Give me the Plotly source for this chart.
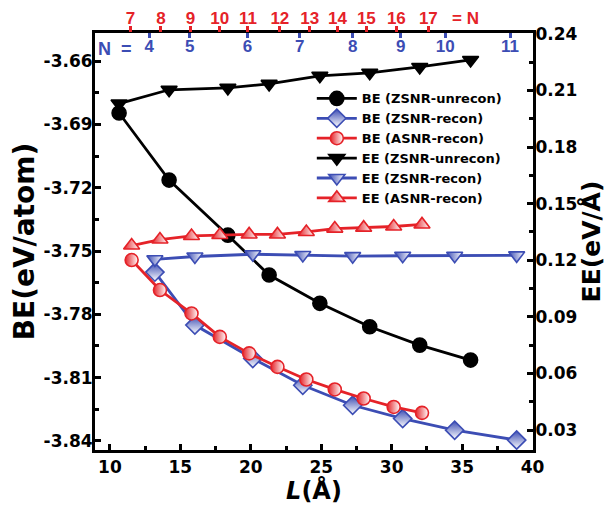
import plotly.graph_objects as go

# ---------------- data ----------------
# ZSNR unreconstructed (black)
L_zsnr_unrecon = [10.65, 14.2, 18.37, 21.3, 24.9, 28.44, 31.99, 35.6]
BE_zsnr_unrecon = [-3.6846, -3.7164, -3.7425, -3.7614, -3.7748, -3.7859, -3.7946, -3.8017]
EE_zsnr_unrecon = [0.2031, 0.2104, 0.2114, 0.2135, 0.2178, 0.2194, 0.2225, 0.2262]

# ZSNR reconstructed (blue)
L_zsnr_recon = [13.19, 16.03, 20.14, 23.69, 27.23, 30.78, 34.47, 38.87]
BE_zsnr_recon = [-3.7600, -3.7851, -3.8009, -3.8136, -3.8231, -3.8294, -3.8349, -3.8396]
EE_zsnr_recon = [0.1205, 0.1220, 0.1232, 0.1228, 0.1222, 0.1224, 0.1224, 0.1226]

# ASNR reconstructed (red)
L_asnr_recon = [11.54, 13.55, 15.79, 17.80, 19.88, 21.89, 23.94, 25.96, 28.01, 30.14, 32.15]
BE_asnr_recon = [-3.7543, -3.7685, -3.7796, -3.7907, -3.7985, -3.8049, -3.8109, -3.8156, -3.8199, -3.8239, -3.8267]
EE_asnr_recon = [0.1278, 0.1310, 0.1329, 0.1334, 0.1337, 0.1337, 0.1350, 0.1368, 0.1373, 0.1379, 0.1390]

# left axis tick labels (plain hyphen minus as in the original)
BE_tick_vals = [-3.66, -3.69, -3.72, -3.75, -3.78, -3.81, -3.84]
BE_tick_text = ["-3.66", "-3.69", "-3.72", "-3.75", "-3.78", "-3.81", "-3.84"]

# top axis tick marks (ribbon index N)
N_asnr_tick_L = [11.46, 13.62, 15.72, 17.80, 19.79, 22.06, 24.18, 26.15, 28.2, 30.33, 32.6]
N_asnr_labels = ["7", "8", "9", "10", "11", "12", "13", "14", "15", "16", "17"]
N_zsnr_tick_L = [12.79, 15.67, 19.77, 23.48, 27.23, 30.64, 33.8, 38.4]
N_zsnr_labels = ["4", "5", "6", "7", "8", "9", "10", "11"]

# ---------------- style ----------------
RED = "#E52228"
BLUE = "#3C4DB4"
BLACK = "#000000"
TICKFONT = dict(family="DejaVu Sans", size=17, color="black", weight="bold")

fig = go.Figure()

def add(x, y, name, color, symbol, size, yaxis="y", grad=None):
    marker = dict(symbol=symbol, size=size, color=color,
                  line=dict(color=color, width=1.6))
    if grad:
        marker["gradient"] = dict(type=grad, color="white")
    fig.add_trace(go.Scatter(
        x=x, y=y, name=name, yaxis=yaxis, mode="lines+markers",
        line=dict(color=color, width=2.8), marker=marker))

add(L_zsnr_unrecon, BE_zsnr_unrecon, "BE (ZSNR-unrecon)", BLACK, "circle", 14)
add(L_zsnr_recon, BE_zsnr_recon, "BE (ZSNR-recon)", BLUE, "diamond", 14, grad="vertical")
add(L_asnr_recon, BE_asnr_recon, "BE (ASNR-recon)", RED, "circle", 13, grad="horizontal")
add(L_zsnr_unrecon, EE_zsnr_unrecon, "EE (ZSNR-unrecon)", BLACK, "triangle-down", 14, yaxis="y2")
add(L_zsnr_recon, EE_zsnr_recon, "EE (ZSNR-recon)", BLUE, "triangle-down", 14, yaxis="y2", grad="horizontal")
add(L_asnr_recon, EE_asnr_recon, "EE (ASNR-recon)", RED, "triangle-up", 14, yaxis="y2", grad="horizontal")

# empty traces to bind the two top axes
fig.add_trace(go.Scatter(x=[], y=[], xaxis="x2", showlegend=False, hoverinfo="skip"))
fig.add_trace(go.Scatter(x=[], y=[], xaxis="x3", showlegend=False, hoverinfo="skip"))

XRANGE = [8.94, 40.03]

# the page body has an 8px margin, so the figure is 8px smaller than the window
fig.update_layout(
    width=604, height=497,
    margin=dict(l=87, r=79, t=25, b=55),
    paper_bgcolor="white", plot_bgcolor="white",
    showlegend=True,
    legend=dict(x=0.495, y=0.879, xanchor="left", yanchor="top",
                bgcolor="rgba(0,0,0,0)", itemwidth=40,
                font=dict(family="DejaVu Sans", size=13, color="black", weight="bold"),
                tracegroupgap=0),
    xaxis=dict(
        range=XRANGE, showgrid=False, zeroline=False, automargin=False,
        showline=True, linecolor="black", linewidth=3, mirror=True,
        ticks="inside", ticklen=6, tickwidth=2.5, tickcolor="black",
        tick0=10, dtick=5, tickfont=TICKFONT,
        minor=dict(ticks="inside", ticklen=4, tickwidth=2.5, dtick=2.5, tick0=10, tickcolor="black"),
        title=dict(text="<b><i>L</i>(Å)</b>", font=dict(family="DejaVu Sans", size=24, color="black"),
                   standoff=5),
    ),
    xaxis2=dict(
        overlaying="x", side="top", anchor="y", range=XRANGE, automargin=False,
        showgrid=False, zeroline=False, showline=False,
        tickmode="array", tickvals=N_asnr_tick_L, ticktext=N_asnr_labels,
        ticks="outside", ticklen=6, tickwidth=2.5, tickcolor=RED,
        ticklabelstandoff=-5,
        tickfont=dict(family="Liberation Sans", size=17, color=RED, weight="bold"),
    ),
    xaxis3=dict(
        overlaying="x", side="top", anchor="y", range=XRANGE, automargin=False,
        showgrid=False, zeroline=False, showline=False,
        tickmode="array", tickvals=N_zsnr_tick_L, ticktext=N_zsnr_labels,
        ticks="inside", ticklen=5, tickwidth=2.5, tickcolor=BLUE,
        ticklabelposition="inside", ticklabelstandoff=3,
        tickfont=dict(family="Liberation Sans", size=17, color=BLUE, weight="bold"),
    ),
    yaxis=dict(
        range=[-3.8443, -3.6467], showgrid=False, zeroline=False, automargin=False,
        showline=True, linecolor="black", linewidth=3,
        ticks="inside", ticklen=6, tickwidth=2.5, tickcolor="black",
        tickmode="array", tickvals=BE_tick_vals, ticktext=BE_tick_text, tickfont=TICKFONT,
        ticklabelstandoff=-4,
        minor=dict(ticks="inside", ticklen=4, tickwidth=2.5, tickmode="linear",
                   dtick=0.015, tick0=-3.66, tickcolor="black"),
        title=dict(text="BE(eV/atom)",
                   font=dict(family="DejaVu Sans", size=28, color="black", weight="bold"),
                   standoff=2),
    ),
    yaxis2=dict(
        overlaying="y", side="right", anchor="x", automargin=False,
        range=[0.0194, 0.2405], showgrid=False, zeroline=False,
        showline=True, linecolor="black", linewidth=3,
        ticks="inside", ticklen=6, tickwidth=2.5, tickcolor="black",
        tick0=0.03, dtick=0.03, tickformat=".2f", tickfont=TICKFONT,
        ticklabelstandoff=-4,
        minor=dict(ticks="inside", ticklen=4, tickwidth=2.5, dtick=0.015, tick0=0.03, tickcolor="black"),
        title=dict(text="EE(eV/Å)",
                   font=dict(family="DejaVu Sans", size=25, color="black", weight="bold"),
                   standoff=4),
    ),
    annotations=[
        dict(text="N  =", xref="paper", yref="paper", x=0.003, y=0.99,
             xanchor="left", yanchor="top", showarrow=False,
             font=dict(family="Liberation Sans", size=18, color=BLUE, weight="bold")),
        dict(text="= N", xref="paper", yref="paper", x=0.81, y=1.0,
             xanchor="left", yanchor="bottom", yshift=3, showarrow=False,
             font=dict(family="Liberation Sans", size=17, color=RED, weight="bold")),
    ],
)

fig.write_html("out.html")
